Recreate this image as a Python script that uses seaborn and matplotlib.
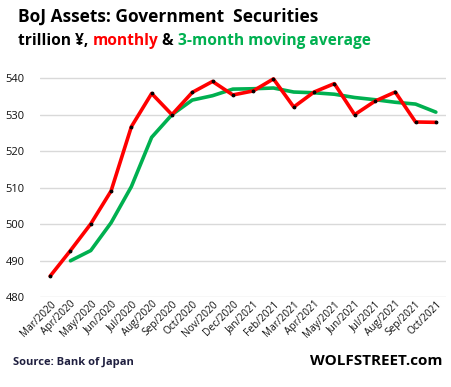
import numpy as np
import pandas as pd
import matplotlib
matplotlib.use("Agg")
import matplotlib.pyplot as plt
import seaborn as sns

# monthly data, trillion yen
months = ["Mar/2020", "Apr/2020", "May/2020", "Jun/2020", "Jul/2020", "Aug/2020",
          "Sep/2020", "Oct/2020", "Nov/2020", "Dec/2020", "Jan/2021", "Feb/2021",
          "Mar/2021", "Apr/2021", "May/2021", "Jun/2021", "Jul/2021", "Aug/2021",
          "Sep/2021", "Oct/2021"]
monthly = [485.8, 492.8, 500.1, 509.1, 526.7, 535.8, 530.0, 536.1, 539.1, 535.4,
           536.5, 539.8, 532.1, 536.2, 538.5, 530.0, 533.7, 536.2, 528.0, 527.9]
moving_avg = [np.nan, 490.0, 492.8, 500.4, 510.3, 523.8, 530.0, 534.0, 535.2, 537.0,
              537.1, 537.3, 536.2, 536.0, 535.6, 534.7, 534.1, 533.4, 532.9, 530.7]
y_ticks = [480, 490, 500, 510, 520, 530, 540]

df = pd.DataFrame({"month": months, "monthly": monthly, "avg": moving_avg})

sns.set_style("white")
plt.rcParams["font.family"] = ["Open Sans", "DejaVu Sans"]
plt.rcParams["text.color"] = "black"

fig = plt.figure(figsize=(4.51, 3.87), dpi=100)
ax = fig.add_axes([40 / 451, 1 - 297.3 / 387, 406 / 451, (297.3 - 74.5) / 387])

sns.lineplot(data=df, x="month", y="monthly", ax=ax, color="#FF0000", lw=2.6,
             marker="o", markersize=2.0, markerfacecolor="black",
             markeredgecolor="black", zorder=3)
sns.lineplot(data=df.dropna(), x="month", y="avg", ax=ax, color="#00B050", lw=2.6,
             zorder=2)

ax.set_xlim(-0.5, len(months) - 0.5)
ax.set_ylim(480, 541)
ax.set_yticks(y_ticks)
ax.yaxis.grid(True, color="#D9D9D9", lw=1)
ax.xaxis.grid(False)
for s in ax.spines.values():
    s.set_visible(False)
ax.set_xlabel("")
ax.set_ylabel("")
ax.tick_params(axis="y", length=0, labelsize=8, labelcolor="#111111", pad=11)
ax.tick_params(axis="x", length=0, labelsize=7.3, labelcolor="#111111", pad=1)
plt.setp(ax.get_xticklabels(), rotation=45, ha="right", rotation_mode="anchor")

# title
fig.text(18 / 451, 1 - 17 / 387, "BoJ Assets: Government  Securities", fontsize=12.5,
         fontweight="bold", va="center", ha="left", color="black")

# multicolour subtitle
parts = [("trillion ¥, ", "black"), ("monthly", "#FF0000"), (" & ", "black"),
         ("3-month moving average", "#00B050")]
fig.canvas.draw()
r = fig.canvas.get_renderer()
x = 18 / 451
for txt, col in parts:
    t = fig.text(x, 1 - 41 / 387, txt, fontsize=11.2, fontweight="bold", color=col,
                 va="center", ha="left")
    bb = t.get_window_extent(renderer=r)
    x += bb.width / fig.bbox.width

fig.text(13 / 451, 1 - 362 / 387, "Source: Bank of Japan", fontsize=8,
         fontweight="bold", color="#1F1F3F", va="center", ha="left")
fig.text(443 / 451, 1 - 361 / 387, "WOLFSTREET.com", fontsize=11,
         fontweight="bold", color="black", va="center", ha="right")

fig.savefig("out.png", dpi=100)
